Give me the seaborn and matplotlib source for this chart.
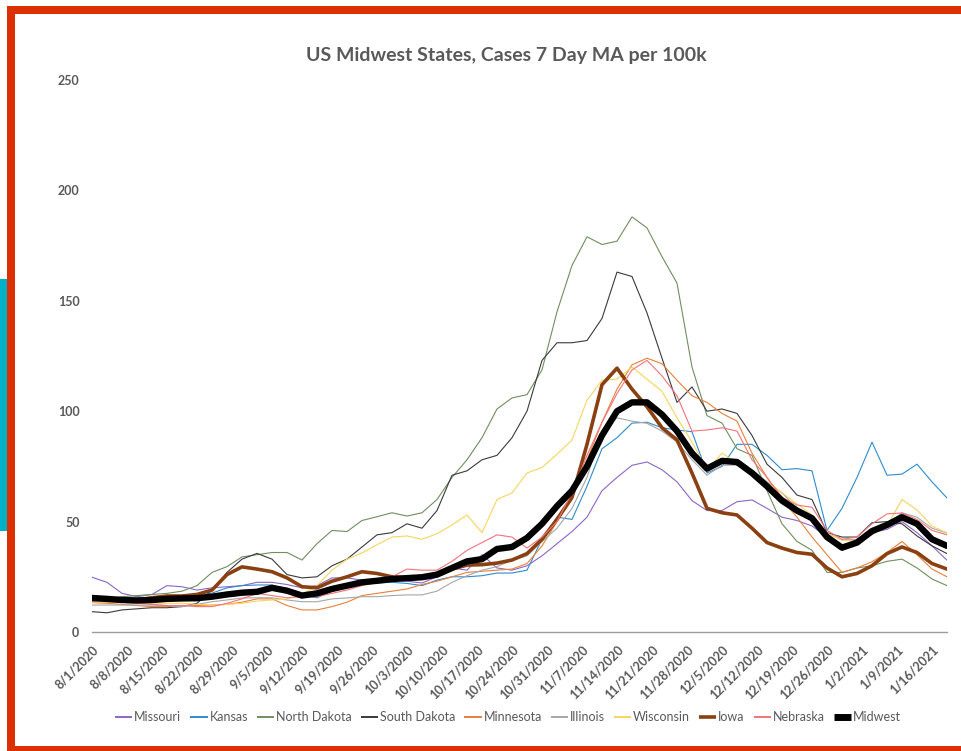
import matplotlib
matplotlib.use("Agg")
import matplotlib.pyplot as plt
from matplotlib.patches import Rectangle
from matplotlib.lines import Line2D
import numpy as np
import pandas as pd
import seaborn as sns

# ---------------- data (values every 3 days, 8/1/2020 .. 1/19/2021) ----------------
dates = pd.date_range("2020-08-01", "2021-01-19", freq="3D")

missouri = [24.8, 22.5, 17.5, 16, 17, 21, 20.5, 19, 20, 20.5, 21, 22.5, 22.5, 21.5, 20, 21,
            24.5, 24.5, 23.5, 23.5, 23.5, 23, 22.2, 25, 29, 28, 35, 29, 28, 30, 34.5, 40,
            45.5, 52, 64, 70, 75.5, 77, 73.5, 68, 59.5, 55, 55, 59, 59.8, 56, 52, 50.5,
            48, 43, 37, 40, 45, 46.5, 50, 45, 39, 32.5]
kansas = [13.7, 13.5, 13.5, 13, 13.5, 14, 15, 16, 17.6, 20, 21, 21.3, 21.3, 19, 16.5, 15.5,
          18.5, 20, 22, 22.2, 22.5, 22, 21, 23.5, 25, 25, 25.5, 26.7, 26.7, 28, 42, 52,
          51, 66, 83, 88, 94.6, 95, 92.5, 91.5, 90.7, 72, 75, 85, 85, 80, 73.5, 74,
          73, 46, 56, 70, 86, 71, 71.5, 76, 68, 60.7]
north_dakota = [14, 15, 16, 16.5, 17, 17.5, 18.5, 21, 27, 29.6, 34, 35, 36, 36, 32.6, 40,
                46, 45.5, 50.5, 52.2, 54, 52.5, 54, 60, 70, 78, 88, 101, 106, 107.5, 118.7, 145,
                166, 179, 175.5, 177, 188, 183, 170, 158, 120, 98, 94.6, 83, 80, 64, 49, 41,
                37, 27, 27, 29, 30, 32, 33, 29, 24, 21]
south_dakota = [9.2, 8.7, 10, 10.5, 11, 11, 11.5, 13, 19, 27, 33, 35.6, 33, 26, 24.5, 25,
                30, 33, 38.5, 44, 45, 49, 47, 55, 71, 73, 78, 80, 88, 100, 123, 131,
                131, 132, 142, 163, 161, 144.5, 124, 104, 111, 100, 101, 99, 89, 76, 70, 62,
                60, 45, 43, 43, 49.5, 50, 49, 43.5, 39, 35.5]
minnesota = [13.3, 13, 12.5, 12, 11.5, 11.5, 12, 12, 12.2, 12.5, 13.5, 15, 15, 12, 10, 10,
             11.5, 13.5, 16.5, 17.5, 18.5, 19.5, 21.5, 23, 25, 27, 27.5, 28, 28.5, 31, 39, 50,
             60, 78, 95, 110, 121, 124, 121.5, 114, 107, 104, 99, 95.5, 81, 70, 60, 52,
             43, 35, 27, 29, 31.8, 36, 41, 35, 28.5, 25]
illinois = [12.2, 12.2, 12.2, 12.2, 12.2, 12, 11.5, 12.5, 13.7, 14.5, 15.4, 15.5, 15.5, 14.5, 13.7, 13.7,
            15, 15.4, 16, 16, 16.5, 16.8, 16.8, 18.5, 22.5, 25.5, 28, 29.6, 32.5, 34.5, 41, 47,
            56, 70, 91, 97, 95.5, 94.5, 91, 86, 78, 71, 75.5, 75.6, 73.5, 68, 63, 56,
            52, 44.8, 41.7, 42, 46.5, 49, 54, 52, 47, 44.8]
wisconsin = [13.5, 13.5, 13.5, 13, 13, 13, 13, 12.5, 12.2, 12.5, 13, 14, 14.5, 15, 17, 21,
             28, 33, 35.8, 39.5, 43, 43.5, 42, 44.5, 48.5, 53, 45, 60, 63, 72, 74.5, 80.5,
             87, 105, 114, 114.5, 120, 114.5, 109, 97, 86, 73.5, 81, 76.5, 71.5, 67.5, 63, 58,
             53, 44.8, 41.5, 41.5, 44, 48, 60, 55.3, 48, 44.8]
iowa = [15.4, 15, 14.8, 14.5, 15.5, 16.3, 16.3, 17, 19, 26, 29.5, 28.5, 27.3, 24.5, 20.5, 20,
        23, 25, 27.3, 26.5, 25, 24.5, 24.4, 25.5, 28.5, 30.3, 30.5, 31.2, 32.6, 35.5, 42, 51,
        61, 85, 112, 119.5, 110, 102, 92.5, 87, 72, 56, 54, 53, 47, 40.5, 38, 36,
        35.2, 29, 25, 26.5, 30, 35.5, 38.5, 36, 31, 28.5]
nebraska = [14, 14, 13.5, 13, 12.5, 12, 12, 11.5, 11.5, 13, 15, 17.5, 16.5, 15.5, 16, 16,
            17.5, 19, 21, 22.5, 25, 28.5, 28, 28, 32, 37, 40.5, 44, 43, 38, 43, 50,
            63, 80, 95, 108, 118.7, 123, 116, 107, 91, 91.5, 92.5, 91, 78, 70, 61, 57.5,
            56.5, 46, 42, 43, 49, 53.5, 53.9, 51, 46, 44]
midwest = [15.4, 15, 14.5, 14.3, 14.5, 15, 15.2, 15.3, 16, 17, 17.8, 18.2, 20, 18.7, 16.5, 17.5,
           19.5, 21, 22.5, 23.2, 24, 24.4, 24.8, 26, 29, 32, 33, 37.6, 38.5, 42.6, 49, 57,
           64, 75, 89, 100, 104, 104, 98.5, 91, 81, 74, 77.5, 77, 72, 66, 59.5, 55,
           51.5, 43, 38.2, 40.5, 45.7, 48.5, 52, 49, 42, 39]

series_names = ["Missouri", "Kansas", "North Dakota", "South Dakota", "Minnesota",
                "Illinois", "Wisconsin", "Iowa", "Nebraska", "Midwest"]
series_values = [missouri, kansas, north_dakota, south_dakota, minnesota,
                 illinois, wisconsin, iowa, nebraska, midwest]
series_colors = ["#8E65C6", "#2E8BD0", "#6F8F5F", "#3A3A3A", "#E8803A",
                 "#A6A6A6", "#F7D55E", "#8A4010", "#F4737A", "#000000"]
series_widths = [0.8, 0.8, 0.8, 0.8, 0.8, 0.8, 0.8, 2.6, 0.8, 4.6]
legend_widths = [1.4, 1.4, 1.4, 1.4, 1.4, 1.4, 1.4, 2.6, 1.4, 5.0]

tick_dates = pd.date_range("2020-08-01", "2021-01-16", freq="7D")
tick_labels = ["8/1/2020", "8/8/2020", "8/15/2020", "8/22/2020", "8/29/2020", "9/5/2020",
               "9/12/2020", "9/19/2020", "9/26/2020", "10/3/2020", "10/10/2020", "10/17/2020",
               "10/24/2020", "10/31/2020", "11/7/2020", "11/14/2020", "11/21/2020",
               "11/28/2020", "12/5/2020", "12/12/2020", "12/19/2020", "12/26/2020",
               "1/2/2021", "1/9/2021", "1/16/2021"]
y_ticks = [0, 50, 100, 150, 200, 250]
title = "US Midwest States, Cases 7 Day MA per 100k"

# ---------------- styling ----------------
sns.set_style("white")
plt.rcParams["font.family"] = ["Lato", "DejaVu Sans"]
TXT = "#595959"

W, H = 961, 751
fig = plt.figure(figsize=(W / 100, H / 100), dpi=100)
fig.patch.set_facecolor("white")

ax = fig.add_axes([92 / W, (H - 632) / H, (947 - 92) / W, (632 - 80) / H])

df = pd.DataFrame({"date": dates})
for name, vals, col, lw in zip(series_names, series_values, series_colors, series_widths):
    df[name] = vals
    sns.lineplot(data=df, x="date", y=name, ax=ax, color=col, linewidth=lw,
                 legend=False, solid_joinstyle="round")

ax.set_xlim(dates[0], dates[-1])
ax.set_ylim(0, 250)
ax.set_yticks(y_ticks)
ax.set_yticklabels([str(v) for v in y_ticks])
ax.set_xticks(tick_dates)
ax.set_xticklabels(tick_labels, rotation=45, ha="right", rotation_mode="anchor")
ax.set_xlabel("")
ax.set_ylabel("")
ax.grid(False)
for s in ["top", "right", "left"]:
    ax.spines[s].set_visible(False)
ax.spines["bottom"].set_color("#9E9E9E")
ax.spines["bottom"].set_linewidth(1.0)
ax.tick_params(axis="y", length=0, pad=9, labelsize=9, labelcolor=TXT)
ax.tick_params(axis="x", length=4, width=1, color="#9E9E9E", direction="out",
               pad=4, labelsize=9, labelcolor=TXT)
for lab in ax.get_xticklabels() + ax.get_yticklabels():
    lab.set_fontweight("bold")

fig.text(506 / W, 1 - 55 / H, title, ha="center", va="center", fontsize=14,
         fontweight="bold", color=TXT)

handles = [Line2D([0], [0], color=c, linewidth=lw, solid_capstyle="butt")
           for c, lw in zip(series_colors, legend_widths)]
leg = fig.legend(handles, series_names, loc="center", bbox_to_anchor=(508 / W, (H - 717) / H),
                 ncol=10, frameon=False, fontsize=9, handlelength=1.4,
                 handletextpad=0.15, columnspacing=0.7)
for t in leg.get_texts():
    t.set_color(TXT)

# ---------------- frame decorations ----------------
RED = "#DC2F02"
fig.patches.append(Rectangle((7 / W, 1 - 14 / H), 1 - 7 / W, 8 / H, transform=fig.transFigure,
                             facecolor=RED, edgecolor="none", zorder=10))
fig.patches.append(Rectangle((7 / W, 0), 8 / W, 1 - 6 / H, transform=fig.transFigure,
                             facecolor=RED, edgecolor="none", zorder=10))
fig.patches.append(Rectangle((7 / W, 0), 1 - 7 / W, 5 / H, transform=fig.transFigure,
                             facecolor=RED, edgecolor="none", zorder=10))
fig.patches.append(Rectangle((0, 1 - 531 / H), 7 / W, 252 / H, transform=fig.transFigure,
                             facecolor="#00B0C8", edgecolor="none", zorder=10))

fig.savefig("out.png", dpi=100)
